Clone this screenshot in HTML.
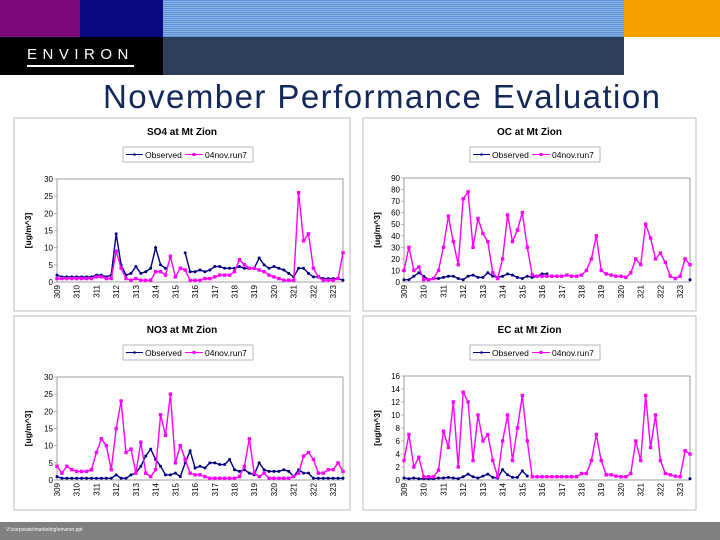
<!DOCTYPE html>
<html><head><meta charset="utf-8"><style>
body{margin:0;width:720px;height:540px;overflow:hidden;background:#fff;position:relative;font-family:"Liberation Sans",sans-serif}
.b{position:absolute}
</style></head><body>
<div class="b" style="left:0;top:0;width:80px;height:37px;background:#7a0a7c"></div>
<div class="b" style="left:80px;top:0;width:83px;height:37px;background:#0a0a80"></div>
<div class="b" style="left:163px;top:0;width:461px;height:37px;background:repeating-linear-gradient(#5b8fd6 0 1px,#8fb4e8 1px 2px)"></div>
<div class="b" style="left:624px;top:0;width:96px;height:37px;background:#f7a000"></div>
<div class="b" style="left:0;top:37px;width:163px;height:38px;background:#000"></div>
<div class="b" style="left:27px;top:47px;color:#fff;font-size:15px;letter-spacing:5.5px;border-bottom:2px solid #fff;line-height:16px;padding-bottom:2px">ENVIRON</div>
<div class="b" style="left:163px;top:37px;width:461px;height:38px;background:#2c3e58"></div>
<svg class="b" style="left:0;top:0" width="720" height="540" id="s">
<text x="103" y="108" font-size="33" fill="#13285a" textLength="557" font-family="Liberation Sans, sans-serif">November Performance Evaluation</text>
</svg>
<div class="b" style="left:0;top:522px;width:720px;height:18px;background:#808080"></div>
<div class="b" style="left:6px;top:527px;color:#fff;font-size:5px">V:\corporate\marketing\environ.ppt</div>
<script>
const days=['309','310','311','312','313','314','315','316','317','318','319','320','321','322','323'];
const N=null;
const so4Obs=[2,1.5,1.5,1.5, 1.5,1.5,1.5,1.5, 2,2,1.5,2, 14,5,2,2.5, 4.5,2.5,3,4, 10,5,4,N, N,N,8.5,3, 3,3.5,3,3.5, 4.5,4.5,4,4, 4,4.5,4,4, 4,7,5,4, 4.5,4,3.5,2.5, 1.5,4,4,2.5, 1.5,1.5,1,1, 1,1,0.5];
const so4Mod=[1,1,1,1, 1,1,1,1, 1.5,1.5,1,1, 9,4,1,0.5, 1,0.5,0.5,0.5, 3,3,2,7.5, 1.5,4,3.5,0.5, 0.5,0.5,1,1, 1.5,2,2,2, 3,6.5,5,4, 4,3.5,3,2, 1.5,1,0.5,0.5, 0.5,26,12,14, 4,1.5,0.5,0.5, 0.5,1,8.5];
const ocObs=[2,2,5,8, 5,2,3,3, 4,5,5,3, 2,5,6,4, 4,8,5,4, 5,7,6,4, 3,5,4,5, 7,7,N,N, N,N,N,N, N,N,N,N, N,N,N,N, N,N,N,N, N,N,N,N, N,N,N,N, N,N,2];
const ocMod=[10,30,10,13, 2,2,3,10, 30,57,35,15, 72,78,30,55, 42,35,8,3, 20,58,35,45, 60,30,6,5, 5,5,5,5, 5,6,5,5, 6,10,20,40, 10,7,6,5, 5,4,8,20, 15,50,38,20, 25,17,5,3, 5,20,15];
const no3Obs=[1,0.5,0.5,0.5, 0.5,0.5,0.5,0.5, 0.5,0.5,0.5,0.5, 1.5,0.5,0.5,1.5, 2,4,7,9, 6,4,1.5,1.5, 2,1,5,8.5, 3.5,4,3.5,5, 5,4.5,4.5,6, 3,2.5,3,2, 1.5,5,3,2.5, 2.5,2.5,3,2.5, 1,3,2,2, 0.5,0.5,0.5,0.5, 0.5,0.5,0.5];
const no3Mod=[4,2,4,3, 2.5,2.5,2.5,3, 8,12,10,3, 15,23,8,9, 2,11,2,1, 3,19,13,25, 5,10,6,2, 1.5,1.5,1,0.5, 0.5,0.5,0.5,0.5, 0.5,1,4,12, 2,1,2,0.5, 0.5,0.5,0.5,0.5, 1,2,7,8, 6,2,2,3, 3,5,2.5];
const ecObs=[0.3,0.2,0.3,0.2, 0.2,0.2,0.2,0.3, 0.3,0.4,0.3,0.2, 0.5,0.9,0.5,0.3, 0.6,0.9,0.4,0.3, 1.6,0.8,0.4,0.4, 1.4,0.6,N,N, N,N,N,N, N,N,N,N, N,N,N,N, N,N,N,N, N,N,N,N, N,N,N,N, N,N,N,N, N,N,0.2];
const ecMod=[3,7,2,3.5, 0.5,0.5,0.5,1.5, 7.5,5,12,2, 13.5,12,3,10, 6,7,3,0.5, 6,10,3,8, 13,6,0.5,0.5, 0.5,0.5,0.5,0.5, 0.5,0.5,0.5,0.5, 1,1,3,7, 3,0.8,0.8,0.6, 0.5,0.5,1,6, 3,13,5,10, 3,1,0.8,0.6, 0.5,4.5,4];
const so4Ticks=[0,5,10,15,20,25,30], ocTicks=[0,10,20,30,40,50,60,70,80,90], no3Ticks=[0,5,10,15,20,25,30], ecTicks=[0,2,4,6,8,10,12,14,16];
const svg=document.getElementById('s');const NS='http://www.w3.org/2000/svg';
function mk(t,a,p){const e=document.createElementNS(NS,t);for(const k in a)e.setAttribute(k,a[k]);(p||svg).appendChild(e);return e;}
function chart(o){
 const g=mk('g',{});
 
 
 const fr=mk('rect',{x:o.px,y:o.py,width:o.pw,height:o.ph,fill:'#fff',stroke:'#c8c8c8','stroke-width':1.2},g);
 
 
 const L=o.x0,R=o.x1,T=o.yt,B=o.yb,ymax=o.ticks[o.ticks.length-1];
 const xs=t=>L+(t/4)*(R-L)/14.5, ys=v=>B-v/ymax*(B-T);
 const pa=mk('rect',{x:L,y:T,width:R-L,height:B-T,fill:'#fff',stroke:'#888','stroke-width':0.8},g);
 
 
 const ti=mk('text',{x:(o.px+o.px+o.pw)/2,y:o.py+17,'font-size':10,'font-weight':'bold','text-anchor':'middle','font-family':'Liberation Sans, sans-serif'},g);ti.textContent=o.title;
 
 
 const lg=mk('g',{},g);
 
 
 const lx=o.lx,ly=o.py+29;
 mk('rect',{x:lx,y:ly,width:130,height:15,fill:'#fff',stroke:'#999','stroke-width':0.7},lg);
 mk('line',{x1:lx+3,y1:ly+7.5,x2:lx+20,y2:ly+7.5,stroke:'#000080','stroke-width':1},lg);
 mk('circle',{cx:lx+11.5,cy:ly+7.5,r:1.3,fill:'#000080'},lg);
 let t1=mk('text',{x:lx+22,y:ly+11,'font-size':8.5,'font-family':'Liberation Sans, sans-serif'},lg);t1.textContent='Observed';
 mk('line',{x1:lx+62,y1:ly+7.5,x2:lx+80,y2:ly+7.5,stroke:'#ff00ff','stroke-width':1},lg);
 mk('rect',{x:lx+69.5,y:ly+6,width:3,height:3,fill:'#ff00ff'},lg);
 let t2=mk('text',{x:lx+82,y:ly+11,'font-size':8.5,'font-family':'Liberation Sans, sans-serif'},lg);t2.textContent='04nov.run7';
 o.ticks.forEach(v=>{const t=mk('text',{x:L-4,y:ys(v)+3,'font-size':8,'text-anchor':'end','font-family':'Liberation Sans, sans-serif'},g);t.textContent=v;
  
  
  mk('line',{x1:L-3,y1:ys(v),x2:L,y2:ys(v),stroke:'#888','stroke-width':0.6},g);});
 days.forEach((d,i)=>{const x=xs(i*4);const t=mk('text',{transform:`translate(${x+3},${B+3}) rotate(-90)`,'font-size':8,'text-anchor':'end','font-family':'Liberation Sans, sans-serif'},g);t.textContent=d;
  
  });
 const yl=mk('text',{transform:`translate(${o.px+17},${(T+B)/2}) rotate(-90)`,'font-size':8.5,'font-weight':'bold','text-anchor':'middle','font-family':'Liberation Sans, sans-serif'},g);yl.textContent='[ug/m^3]';
 
 
 [[o.obs,'#000080','observed',0],[o.mod,'#ff00ff','model',1]].forEach(([arr,c,nm,sq])=>{
  let d='',pen=false;arr.forEach((v,i)=>{if(v===null){pen=false;return;}d+=(pen?'L':'M')+xs(i).toFixed(1)+','+ys(v).toFixed(1);pen=true;});
  const p=mk('path',{d:d,fill:'none',stroke:c,'stroke-width':1.4},g);
  
  
  arr.forEach((v,i)=>{if(v===null)return;let m;
   if(sq)m=mk('rect',{x:xs(i)-1.7,y:ys(v)-1.7,width:3.4,height:3.4,fill:c},g);
   else m=mk('circle',{cx:xs(i),cy:ys(v),r:1.5,fill:c},g);
   
   });
 });
}
chart({name:'so4',title:'SO4 at Mt Zion',px:14,py:118,pw:336,ph:193,x0:57,x1:343,yt:179,yb:282,lx:123,ticks:so4Ticks,obs:so4Obs,mod:so4Mod});
chart({name:'oc',title:'OC at Mt Zion',px:363,py:118,pw:333,ph:193,x0:404,x1:690,yt:178,yb:282,lx:470,ticks:ocTicks,obs:ocObs,mod:ocMod});
chart({name:'no3',title:'NO3 at Mt Zion',px:14,py:316,pw:336,ph:194,x0:57,x1:343,yt:377,yb:480,lx:123,ticks:no3Ticks,obs:no3Obs,mod:no3Mod});
chart({name:'ec',title:'EC at Mt Zion',px:363,py:316,pw:333,ph:194,x0:404,x1:690,yt:376,yb:480,lx:470,ticks:ecTicks,obs:ecObs,mod:ecMod});
</script>
</body></html>
